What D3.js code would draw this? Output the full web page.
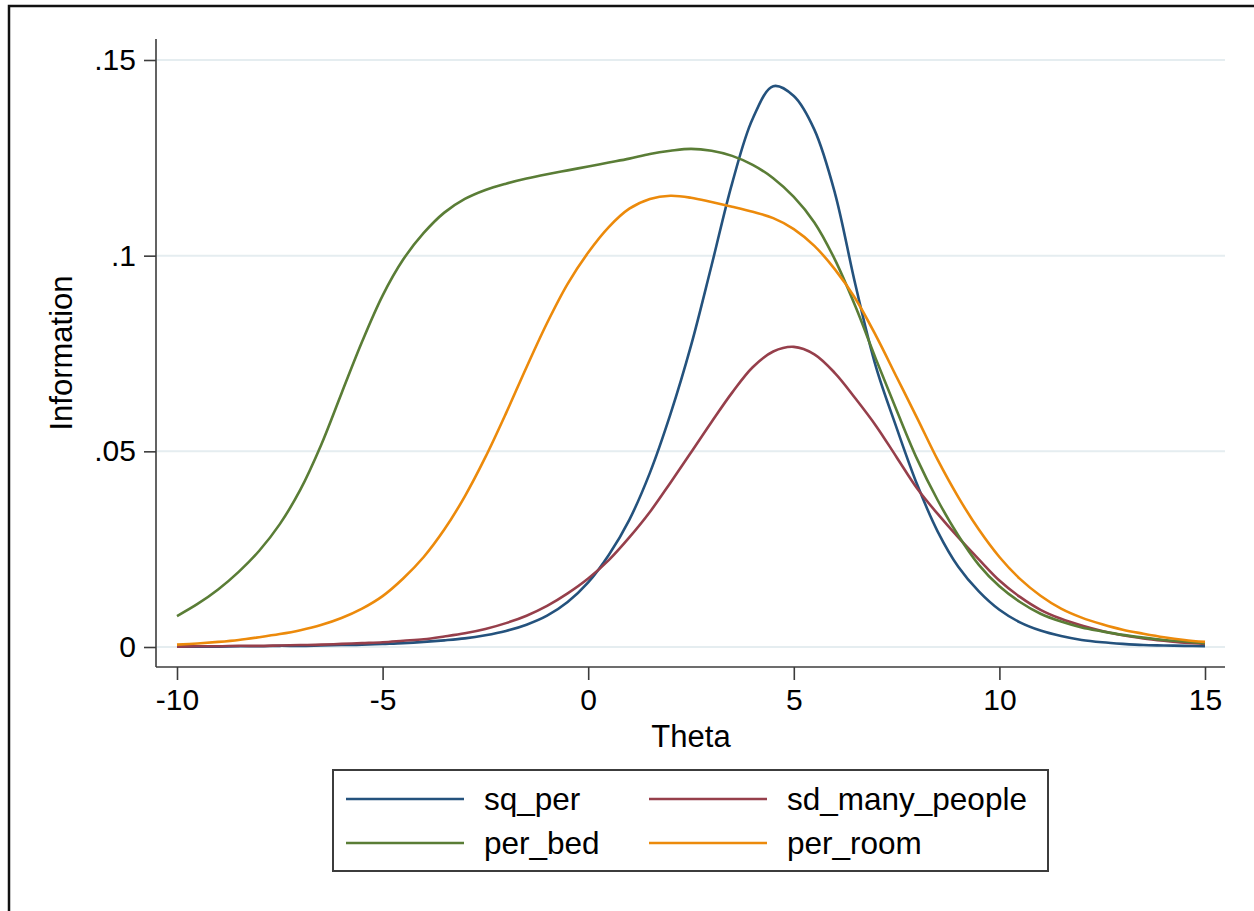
<!DOCTYPE html>
<html>
<head>
<meta charset="utf-8">
<script src="https://cdn.jsdelivr.net/npm/d3@7"></script>
<style>
  body { margin: 0; background: #fff; }
  svg { display: block; font-family: "Liberation Sans", Arial, sans-serif; }
  .grid line { stroke: #e5edf0; stroke-width: 2; }
  .axis path, .axis line { stroke: #3c3c3c; stroke-width: 1.6; }
  .axis text { font-size: 30px; fill: #000; }
  .curve { fill: none; stroke-width: 2.6; }
</style>
</head>
<body>
<div class="container"></div>
<script>
const WIDTH = 1254,
      HEIGHT = 911;

// theta grid (half steps)
var theta = [-10, -9.5, -9, -8.5, -8, -7.5, -7, -6.5, -6, -5.5, -5, -4.5, -4, -3.5, -3, -2.5, -2, -1.5, -1, -0.5,
             0, 0.5, 1, 1.5, 2, 2.5, 3, 3.5, 4, 4.5, 5, 5.5, 6, 6.5, 7, 7.5, 8, 8.5, 9, 9.5,
             10, 10.5, 11, 11.5, 12, 12.5, 13, 13.5, 14, 14.5, 15];

var sqPer = [0.0001, 0.0001, 0.0001, 0.0002, 0.0002, 0.0003, 0.0003, 0.0004, 0.0005, 0.0006,
             0.0008, 0.0010, 0.0013, 0.0017, 0.0022, 0.0030, 0.0041, 0.0057, 0.0080, 0.0115,
             0.0165, 0.0235, 0.0325, 0.0445, 0.0595, 0.0770, 0.0975, 0.1185, 0.1350, 0.1433,
             0.1408, 0.1322, 0.1160, 0.0925, 0.0715, 0.0560, 0.0415, 0.0295, 0.0205, 0.0142,
             0.0095, 0.0063, 0.0042, 0.0028, 0.0018, 0.0012, 0.0008, 0.0005, 0.0004, 0.0003, 0.0002];

var sdManyPeople = [0.0001, 0.0002, 0.0002, 0.0003, 0.0003, 0.0004, 0.0005, 0.0006, 0.0008, 0.0010,
                    0.0012, 0.0016, 0.0020, 0.0027, 0.0035, 0.0046, 0.0061, 0.0080, 0.0105, 0.0137,
                    0.0175, 0.0222, 0.0280, 0.0345, 0.0420, 0.0497, 0.0575, 0.0650, 0.0715, 0.0755,
                    0.0767, 0.0748, 0.0700, 0.0635, 0.0565, 0.0485, 0.0405, 0.0340, 0.0280, 0.0224,
                    0.0170, 0.0128, 0.0095, 0.0072, 0.0055, 0.0041, 0.0030, 0.0022, 0.0016, 0.0011, 0.0008];

var perBed = [0.0079, 0.0110, 0.0147, 0.0192, 0.0246, 0.0314, 0.0402, 0.0515, 0.0648, 0.0780,
              0.0898, 0.0990, 0.1058, 0.1110, 0.1145, 0.1168, 0.1184, 0.1197, 0.1208, 0.1218,
              0.1228, 0.1238, 0.1248, 0.1260, 0.1268, 0.1273, 0.1268, 0.1255, 0.1232, 0.1198,
              0.1150, 0.1085, 0.0990, 0.0870, 0.0735, 0.0605, 0.0480, 0.0375, 0.0285, 0.0210,
              0.0155, 0.0115, 0.0085, 0.0065, 0.0050, 0.0040, 0.0031, 0.0024, 0.0018, 0.0014, 0.0010];

var perRoom = [0.0006, 0.0009, 0.0013, 0.0018, 0.0025, 0.0033, 0.0043, 0.0056, 0.0074, 0.0098,
               0.0130, 0.0175, 0.0230, 0.0300, 0.0385, 0.0485, 0.0597, 0.0715, 0.0828, 0.0928,
               0.1008, 0.1073, 0.1120, 0.1145, 0.1153, 0.1148, 0.1137, 0.1125, 0.1112, 0.1096,
               0.1068, 0.1025, 0.0965, 0.0890, 0.0795, 0.0690, 0.0585, 0.0478, 0.0383, 0.0300,
               0.0230, 0.0174, 0.0131, 0.0098, 0.0075, 0.0058, 0.0044, 0.0034, 0.0025, 0.0018, 0.0013];

var seriesNames = ['sq_per', 'sd_many_people', 'per_bed', 'per_room'];
var seriesValues = [sqPer, sdManyPeople, perBed, perRoom];
var seriesColors = ['#24527d', '#963f4b', '#5a7d36', '#ec8a0b'];

var xTicks = [-10, -5, 0, 5, 10, 15];
var xTickLabels = ['-10', '-5', '0', '5', '10', '15'];
var yTicks = [0, 0.05, 0.1, 0.15];
var yTickLabels = ['0', '.05', '.1', '.15'];

var x = d3.scaleLinear().domain([-10, 15]).range([177, 1205]);
var y = d3.scaleLinear().domain([0, 0.15]).range([647, 60]);

var svg = d3.select('.container').append('svg')
    .attr('width', WIDTH).attr('height', HEIGHT);

// outer frame (right and bottom run off the page)
svg.append('rect')
    .attr('x', 9).attr('y', 6)
    .attr('width', 1400).attr('height', 1100)
    .attr('fill', 'none').attr('stroke', '#111').attr('stroke-width', 2.5);

// gridlines
svg.append('g').attr('class', 'grid')
  .selectAll('line').data(yTicks).enter().append('line')
    .attr('x1', 157).attr('x2', 1225)
    .attr('y1', d => y(d)).attr('y2', d => y(d));

var line = d3.line()
    .x((d, i) => x(theta[i]))
    .y(d => y(d))
    .curve(d3.curveCatmullRom.alpha(0.5));

svg.append('g').selectAll('path').data(seriesValues).enter().append('path')
    .attr('class', 'curve')
    .attr('stroke', (d, i) => seriesColors[i])
    .attr('d', line);

// y axis
var yAxis = d3.axisLeft(y).tickValues(yTicks)
    .tickFormat((d, i) => yTickLabels[i])
    .tickSize(12).tickPadding(8).tickSizeOuter(0);
var gy = svg.append('g').attr('class', 'axis').attr('transform', 'translate(156,0)').call(yAxis);
gy.select('.domain').attr('d', 'M0,39V667');

// x axis
var xAxis = d3.axisBottom(x).tickValues(xTicks)
    .tickFormat((d, i) => xTickLabels[i])
    .tickSize(13).tickPadding(9).tickSizeOuter(0);
var gx = svg.append('g').attr('class', 'axis').attr('transform', 'translate(0,667)').call(xAxis);
gx.select('.domain').attr('d', 'M156,0H1225');

svg.append('text')
    .attr('x', 691).attr('y', 747)
    .attr('text-anchor', 'middle').attr('font-size', 31)
    .text('Theta');

svg.append('text')
    .attr('transform', 'translate(72,353) rotate(-90)')
    .attr('text-anchor', 'middle').attr('font-size', 31)
    .text('Information');

// legend
var legend = svg.append('g');
legend.append('rect')
    .attr('x', 333).attr('y', 770)
    .attr('width', 715).attr('height', 101)
    .attr('fill', '#fff').attr('stroke', '#3c3c3c').attr('stroke-width', 2);

var colX = [346, 649], rowY = [799, 843];
var items = legend.selectAll('g.item').data(seriesNames).enter().append('g')
    .attr('transform', (d, i) => 'translate(' + colX[i % 2] + ',' + rowY[Math.floor(i / 2)] + ')');
items.append('line')
    .attr('x1', 0).attr('x2', 118)
    .attr('stroke', (d, i) => seriesColors[i]).attr('stroke-width', 2.6);
items.append('text')
    .attr('x', 138).attr('y', 11)
    .attr('font-size', 31.5)
    .text(d => d);
</script>
</body>
</html>
